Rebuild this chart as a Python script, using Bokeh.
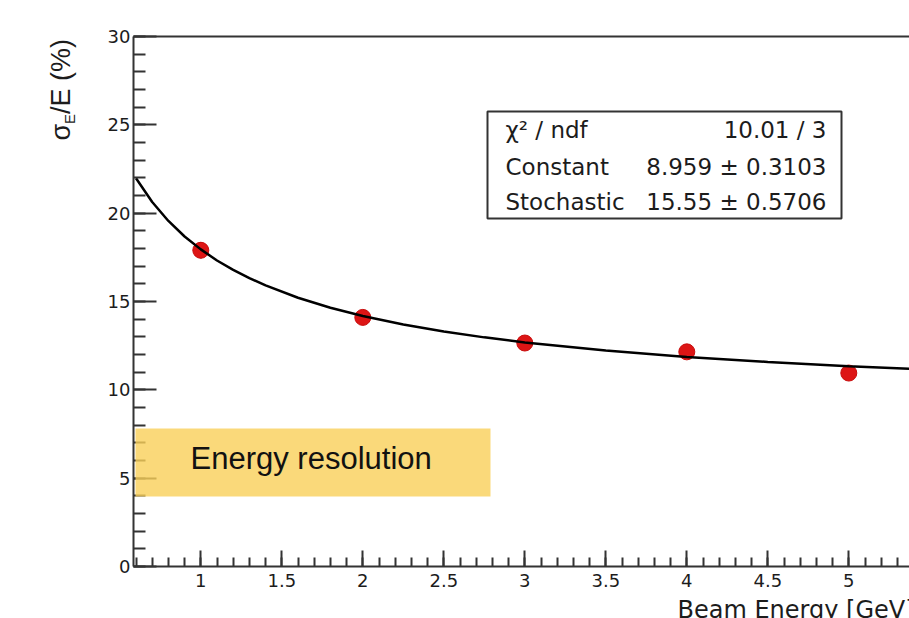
import numpy as np
from bokeh.plotting import figure
from bokeh.models import (Range1d, LinearAxis, SingleIntervalTicker,
                          CustomJSTickFormatter, BoxAnnotation, Label)
from bokeh.embed import file_html
from bokeh.resources import INLINE

# ---------------- data ----------------
energy = [1, 2, 3, 4, 5]                      # Beam energy [GeV]
resolution = [17.9, 14.1, 12.65, 12.15, 10.95]  # sigma_E/E (%)
res_err = [0.45, 0.3, 0.3, 0.3, 0.3]

fit_energy = [0.6, 0.7, 0.8, 0.9, 1.0, 1.1, 1.2, 1.3, 1.4, 1.6, 1.8, 2.0,
              2.25, 2.5, 2.75, 3.0, 3.5, 4.0, 4.5, 5.0, 5.4]
fit_resolution = [21.98, 20.63, 19.56, 18.68, 17.95, 17.32, 16.79, 16.32,
                  15.91, 15.21, 14.65, 14.18, 13.70, 13.30, 12.97, 12.68,
                  12.22, 11.86, 11.58, 11.34, 11.18]

stat_names = ["χ² / ndf", "Constant", "Stochastic"]
stat_values = ["10.01 / 3", "8.959 ± 0.3103", "15.55 ± 0.5706"]

x_title = "Beam Energy [GeV]"
badge_text = "Energy resolution"

# ---------------- layout helpers (canvas pixel -> data) ----------------
X0_PX, X_PER_UNIT = 200.3, 162.0     # pixel x of E=1, px per GeV
Y0_PX, Y_PER_UNIT = 566.0, 530.0 / 30.0


def X(px):
    return 1 + (px - X0_PX) / X_PER_UNIT


def Y(py):
    return (Y0_PX - py) / Y_PER_UNIT


AX = "#333333"
TXT = "#1c1c1c"

p = figure(width=909, height=618,
           x_range=Range1d(X(133), X(909)), y_range=Range1d(0, 30),
           output_backend="svg", toolbar_location=None,
           min_border_left=133, min_border_right=0,
           min_border_top=36, min_border_bottom=52)
p.outline_line_color = None
p.xgrid.visible = False
p.ygrid.visible = False
p.background_fill_color = "white"
p.border_fill_color = "white"

# y axis
ya = p.yaxis[0]
ya.ticker = SingleIntervalTicker(interval=5, num_minor_ticks=5)
ya.major_tick_in = 23
ya.major_tick_out = 0
ya.minor_tick_in = 12
ya.minor_tick_out = 0
ya.axis_line_width = 2
ya.axis_line_color = AX
ya.major_tick_line_width = 2
ya.minor_tick_line_width = 2
ya.major_tick_line_color = AX
ya.minor_tick_line_color = AX
ya.major_label_text_font = "DejaVu Sans"
ya.major_label_text_font_size = "18px"
ya.major_label_text_color = TXT
ya.major_label_standoff = 3

# x axis
xa = p.xaxis[0]
xa.ticker = SingleIntervalTicker(interval=0.5, num_minor_ticks=5)
xa.formatter = CustomJSTickFormatter(code="return String(Math.round(tick*10)/10);")
xa.major_tick_in = 16
xa.major_tick_out = 0
xa.minor_tick_in = 9
xa.minor_tick_out = 0
xa.axis_line_width = 2
xa.axis_line_color = AX
xa.major_tick_line_width = 2
xa.minor_tick_line_width = 2
xa.major_tick_line_color = AX
xa.minor_tick_line_color = AX
xa.major_label_text_font = "DejaVu Sans"
xa.major_label_text_font_size = "18px"
xa.major_label_text_color = TXT
xa.major_label_standoff = 7

# top frame line
top = LinearAxis(ticker=SingleIntervalTicker(interval=0.5),
                 major_tick_line_color=None, minor_tick_line_color=None,
                 major_label_text_font_size="0px", major_label_standoff=0,
                 major_tick_in=0, major_tick_out=0, minor_tick_out=0,
                 axis_line_width=2, axis_line_color=AX)
p.add_layout(top, "above")

# ---- titles outside the frame: side-panel labels placed with data coords ----
def ylab(px, py, txt, size):
    p.add_layout(Label(x=X(px), y=Y(py), text=txt, angle=90, angle_units="deg",
                       text_align="left", text_baseline="middle",
                       text_font="Liberation Sans", text_font_size=size,
                       text_color=TXT), "left")


ylab(60, 140, "σ", "27px")
ylab(69, 123.5, "E", "15px")
ylab(60, 113.5, "/E (%)", "27px")

p.add_layout(Label(x=X(677), y=Y(609), text=x_title, text_align="left",
                   text_baseline="middle", text_font="DejaVu Sans",
                   text_font_size="24px", text_color=TXT), "above")

# error bars, points, fit
lower = [v - e for v, e in zip(resolution, res_err)]
upper = [v + e for v, e in zip(resolution, res_err)]
p.segment(x0=energy, y0=lower, x1=energy, y1=upper, line_color="black", line_width=2)
p.scatter(energy, resolution, size=16, fill_color="#dd1515", line_color="#c80c0c")
p.line(fit_energy, fit_resolution, line_color="black", line_width=2.5)

# stats box
p.add_layout(BoxAnnotation(left=X(487), right=X(841), top=Y(111), bottom=Y(218),
                           fill_color="white", fill_alpha=1.0,
                           line_color="#333333", line_alpha=1.0, line_width=2))
row_mid = [129, 166, 201]
for name, val, m in zip(stat_names, stat_values, row_mid):
    p.add_layout(Label(x=X(505), y=Y(m), text=name, text_align="left",
                       text_baseline="middle", text_font="DejaVu Sans",
                       text_font_size="23px", text_color=TXT))
    p.add_layout(Label(x=X(826), y=Y(m), text=val, text_align="right",
                       text_baseline="middle", text_font="DejaVu Sans",
                       text_font_size="23px", text_color=TXT))

# yellow badge
p.add_layout(BoxAnnotation(left=X(135), right=X(490), top=Y(428), bottom=Y(496),
                           fill_color="#F9D059", fill_alpha=0.8,
                           line_color=None))
p.add_layout(Label(x=X(190), y=Y(458), text=badge_text, text_align="left",
                   text_baseline="middle", text_font="Liberation Sans",
                   text_font_size="31px", text_color="#111111"))

open("out.html", "w").write(file_html(p, INLINE))
